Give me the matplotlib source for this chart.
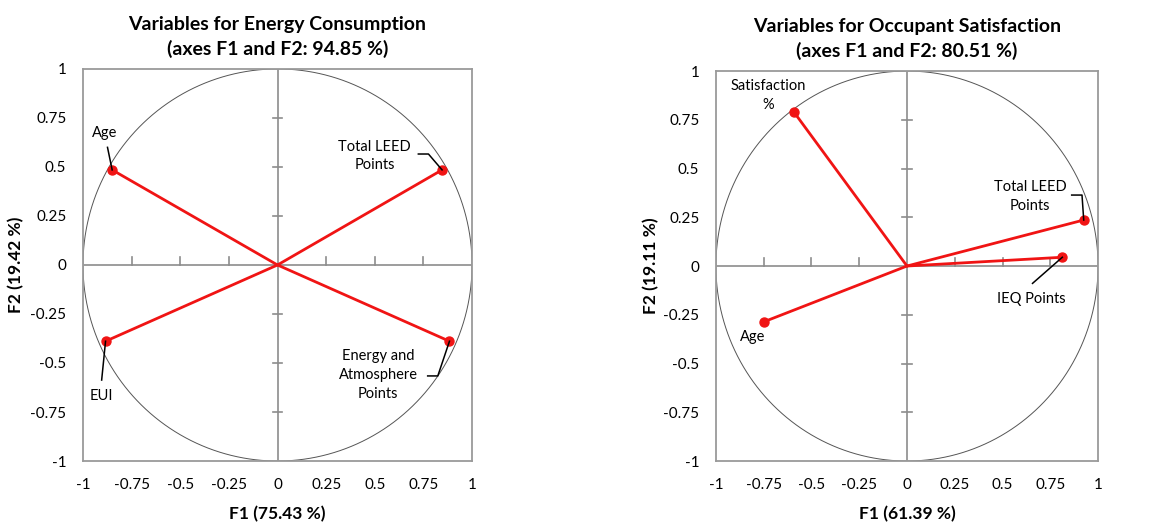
import numpy as np
import matplotlib
matplotlib.use("Agg")
import matplotlib.pyplot as plt

plt.rcParams['font.family'] = ['Lato', 'DejaVu Sans']

# --- data ---
ticks = [-1, -0.75, -0.5, -0.25, 0, 0.25, 0.5, 0.75, 1]
tick_labels = ['-1', '-0.75', '-0.5', '-0.25', '0', '0.25', '0.5', '0.75', '1']

energy_names = ['Age', 'Total LEED\nPoints', 'EUI', 'Energy and\nAtmosphere\nPoints']
energy_f1 = [-0.85, 0.846, -0.884, 0.884]
energy_f2 = [0.485, 0.485, -0.389, -0.389]
# label position + leader line vertices (excluding the point itself)
energy_text = [(-0.887, 0.673), (0.50, 0.556), (-0.904, -0.667), (0.517, -0.561)]
energy_leaders = [
    [(-0.874, 0.60)],
    [(0.724, 0.566), (0.776, 0.566)],
    [(-0.904, -0.587)],
    [(0.772, -0.566), (0.824, -0.566)],
]

occ_names = ['Satisfaction\n%', 'Total LEED\nPoints', 'IEQ Points', 'Age']
occ_f1 = [-0.592, 0.925, 0.813, -0.749]
occ_f2 = [0.79, 0.236, 0.045, -0.286]
occ_text = [(-0.726, 0.873), (0.644, 0.355), (0.653, -0.171), (-0.808, -0.363)]
occ_leaders = [
    None,
    [(0.862, 0.364), (0.916, 0.364)],
    [(0.657, -0.089)],
    None,
]

panels = [
    dict(rect=[0.0721, 0.1252, 0.338, 0.744],
         title='Variables for Energy Consumption\n(axes F1 and F2: 94.85 %)',
         xlabel='F1 (75.43 %)', ylabel='F2 (19.42 %)', ylab_x=-0.15,
         names=energy_names, f1=energy_f1, f2=energy_f2,
         text=energy_text, leaders=energy_leaders),
    dict(rect=[0.622, 0.1252, 0.332, 0.740],
         title='Variables for Occupant Satisfaction\n(axes F1 and F2: 80.51 %)',
         xlabel='F1 (61.39 %)', ylabel='F2 (19.11 %)', ylab_x=-0.147,
         names=occ_names, f1=occ_f1, f2=occ_f2,
         text=occ_text, leaders=occ_leaders),
]

fig = plt.figure(figsize=(11.51, 5.27), dpi=100)

grey = '#8c8c8c'
red = '#f01414'

for p in panels:
    ax = fig.add_axes(p['rect'])
    ax.set_xlim(-1, 1)
    ax.set_ylim(-1, 1)
    for s in ax.spines.values():
        s.set_color('#9a9a9a')
        s.set_linewidth(1.3)
    ax.set_xticks(ticks)
    ax.set_xticklabels(tick_labels)
    ax.set_yticks(ticks)
    ax.set_yticklabels(tick_labels)
    ax.tick_params(length=0, labelsize=11)
    ax.tick_params(axis='x', pad=12)
    ax.tick_params(axis='y', pad=12)

    # circle
    th = np.linspace(0, 2 * np.pi, 400)
    ax.plot(np.cos(th), np.sin(th), color='#555555', lw=0.7, zorder=1)
    # zero axes with ticks
    ax.axhline(0, color=grey, lw=1.2, zorder=1)
    ax.axvline(0, color=grey, lw=1.2, zorder=1)
    for t in ticks:
        if t in (-1, 0, 1):
            continue
        ax.plot([t, t], [0, 0.04], color=grey, lw=1.2, zorder=1)
        ax.plot([-0.025, 0.025], [t, t], color=grey, lw=1.2, zorder=1)

    # vectors
    for x, y in zip(p['f1'], p['f2']):
        ax.plot([0, x], [0, y], color=red, lw=2, zorder=3, solid_capstyle='round')
    ax.scatter(p['f1'], p['f2'], s=42, color=red, zorder=4)

    for name, (tx, ty), lead, x, y in zip(p['names'], p['text'], p['leaders'], p['f1'], p['f2']):
        ax.text(tx, ty, name, ha='center', va='center', fontsize=10.5,
                linespacing=1.45, zorder=5)
        if lead:
            xs = [q[0] for q in lead] + [x]
            ys = [q[1] for q in lead] + [y]
            ax.plot(xs, ys, color='black', lw=1.1, zorder=5)

    ax.set_title(p['title'], fontsize=14, fontweight='bold', pad=10, linespacing=1.45)
    ax.set_xlabel(p['xlabel'], fontsize=12.5, fontweight='bold')
    ax.xaxis.set_label_coords(0.5, -0.115)
    ax.set_ylabel(p['ylabel'], fontsize=12.5, fontweight='bold')
    ax.yaxis.set_label_coords(p['ylab_x'], 0.5)

fig.savefig('out.png', dpi=100)
